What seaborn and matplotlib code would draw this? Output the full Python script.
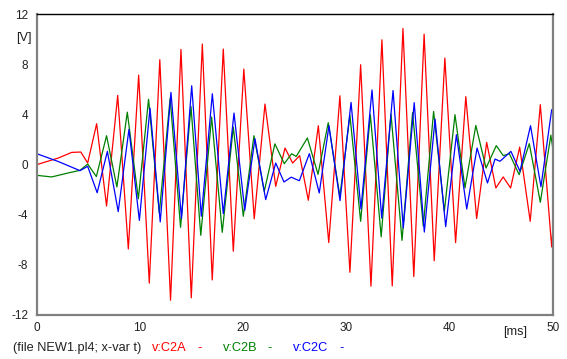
import matplotlib
matplotlib.use("Agg")
import matplotlib.pyplot as plt
import seaborn as sns
import pandas as pd

# values (t in ms, voltage in V), extrema and corners
red_t = [0, 2.09, 3.39, 4.28, 4.94, 5.81, 6.77, 7.85, 8.88, 9.88, 10.91, 11.93, 12.97,
         13.98, 14.98, 16.05, 17.01, 18.08, 19.05, 20.07, 21.08, 22.12, 23.16, 24.06,
         24.8, 25.48, 26.32, 27.29, 28.3, 29.38, 30.35, 31.39, 32.39, 33.45, 34.45,
         35.49, 36.54, 37.54, 38.52, 39.55, 40.59, 41.58, 42.63, 43.6, 44.49, 45.2,
         45.92, 46.8, 47.82, 48.8, 49.9, 50]
red_v = [0, 0.53, 0.98, 1.01, 0.13, 3.27, -3.3, 5.53, -6.73, 7.15, -9.46, 8.38, -10.82,
         9.2, -10.63, 9.63, -9.2, 9.23, -6.91, 7.63, -4.32, 4.84, -1.73, 1.33,
         0.13, 0.72, -2.84, 3.11, -6.22, 5.5, -8.59, 7.98, -9.7, 9.97, -9.68,
         10.87, -8.93, 10.42, -7.67, 8.51, -6.22, 5.43, -4.3, 1.78, -1.86, -0.98,
         -1.86, 1.4, -4.52, 4.79, -6.57, -5.3]

green_t = [0, 1.45, 3.06, 4.2, 4.94, 5.78, 6.77, 7.77, 8.78, 9.85, 10.84, 11.88, 12.93,
           13.94, 14.95, 15.9, 16.95, 17.98, 19.05, 20.02, 21.05, 22.05, 23.08, 23.99,
           24.7, 25.15, 26.23, 27.26, 28.25, 29.38, 30.35, 31.39, 32.33, 33.38, 34.33,
           35.4, 36.42, 37.46, 38.46, 39.5, 40.53, 41.5, 42.55, 43.54, 44.53, 45.21,
           45.8, 46.75, 47.73, 48.8, 49.82, 50]
green_v = [-0.85, -0.98, -0.66, -0.45, 0.05, -0.95, 2.31, -1.78, 4.19, -2.72, 5.22, -3.86, 5.3,
           -5.0, 4.65, -5.64, 3.8, -5.4, 3.0, -4.12, 2.31, -2.13, 1.66, 0.08,
           0.87, 0.66, 2.13, -0.77, 3.35, -2.53, 3.95, -4.52, 3.99, -5.76, 4.04,
           -6.04, 4.15, -4.9, 4.25, -3.72, 3.99, -1.85, 3.13, -0.27, 1.52, 0.72,
           0.88, -0.8, 1.68, -3.0, 2.36, 1.33]

blue_t = [0, 2.1, 4.2, 4.94, 5.86, 6.85, 7.9, 8.94, 9.95, 10.98, 11.97, 13.01, 14.03,
          15.02, 15.95, 17.02, 18.08, 19.12, 20.16, 21.15, 22.19, 23.16, 23.96, 24.66,
          25.45, 26.42, 27.38, 28.32, 29.39, 30.46, 31.42, 32.49, 33.43, 34.53, 35.52,
          36.58, 37.56, 38.6, 39.63, 40.67, 41.67, 42.67, 43.68, 44.41, 44.89, 45.95,
          46.83, 47.85, 48.86, 49.9, 50]
blue_v = [0.88, 0.25, -0.48, -0.13, -2.24, 1.06, -3.75, 2.82, -4.45, 4.52, -4.57, 5.77, -4.3,
          6.3, -4.12, 5.66, -3.91, 4.12, -3.64, 2.07, -2.79, 0.13, -1.38, -1.0,
          -1.28, 0.88, -2.26, 3.11, -2.87, 4.97, -3.54, 5.96, -4.26, 5.92, -5.05,
          4.95, -5.38, 3.64, -4.95, 2.39, -3.54, 1.33, -1.46, 0.45, 0.27, 1.06,
          -0.53, 3.11, -1.76, 4.39, 4.18]

series_names = ["v:C2A", "v:C2B", "v:C2C"]
series_colors = ["#ff0000", "#008000", "#0000ff"]
x_ticks = [0, 10, 20, 30, 40, 50]
x_minor = [5, 15, 25, 35, 45]
y_ticks = [-12, -8, -4, 0, 4, 8, 12]

frames = []
for name, t, v in zip(series_names, [red_t, green_t, blue_t], [red_v, green_v, blue_v]):
    frames.append(pd.DataFrame({"t": t, "v": v, "series": name}))
df = pd.concat(frames, ignore_index=True)

sns.set_style("white")
plt.rcParams["font.family"] = ["Liberation Sans", "DejaVu Sans"]

fig = plt.figure(figsize=(5.67, 3.59), dpi=100)
ax = fig.add_axes([0.0647, 0.1226, 0.9101, 0.8374])

sns.lineplot(data=df, x="t", y="v", hue="series", palette=series_colors,
             estimator=None, sort=False, linewidth=0.9, legend=False, ax=ax)

ax.set_xlim(0, 50)
ax.set_ylim(-12, 12)
ax.set_xlabel("")
ax.set_ylabel("")

ax.set_xticks(x_ticks)
ax.set_xticklabels([str(x) for x in x_ticks])
ax.set_xticks(x_minor, minor=True)
ax.set_yticks(y_ticks)
ax.set_yticklabels([str(y) for y in y_ticks])
ax.tick_params(axis="x", which="major", length=0, pad=5, labelsize=8.5, labelcolor="#222222")
ax.tick_params(axis="x", which="minor", length=4, width=1, color="#555555", direction="out")
ax.tick_params(axis="y", length=4.5, width=1, color="#555555", direction="out",
               pad=1.5, labelsize=8.5, labelcolor="#222222")

for side in ["left", "bottom", "right"]:
    ax.spines[side].set_color("#808080")
    ax.spines[side].set_linewidth(1.6)
ax.spines["top"].set_color("black")
ax.spines["top"].set_linewidth(1.0)

fig.text(24 / 567, 1 - 37.5 / 359, "[V]", ha="center", va="center", fontsize=9.2, color="#222222")
fig.text(515.5 / 567, 1 - 331.5 / 359, "[ms]", ha="center", va="center", fontsize=9.2, color="#222222")

# footer line as in the ATP plot
fy = 1 - 348.3 / 359
fig.text(12.7 / 567, fy, "(file NEW1.pl4; x-var t)", ha="left", va="center", fontsize=9.2, color="#222222")
fig.text(151.7 / 567, fy, "v:C2A", ha="left", va="center", fontsize=9.2, color=series_colors[0])
fig.text(200 / 567, fy, "-", ha="center", va="center", fontsize=9.2, color=series_colors[0])
fig.text(222.7 / 567, fy, "v:C2B", ha="left", va="center", fontsize=9.2, color=series_colors[1])
fig.text(270 / 567, fy, "-", ha="center", va="center", fontsize=9.2, color=series_colors[1])
fig.text(293.3 / 567, fy, "v:C2C", ha="left", va="center", fontsize=9.2, color=series_colors[2])
fig.text(341.7 / 567, fy, "-", ha="center", va="center", fontsize=9.2, color=series_colors[2])

fig.savefig("out.png", dpi=100)
